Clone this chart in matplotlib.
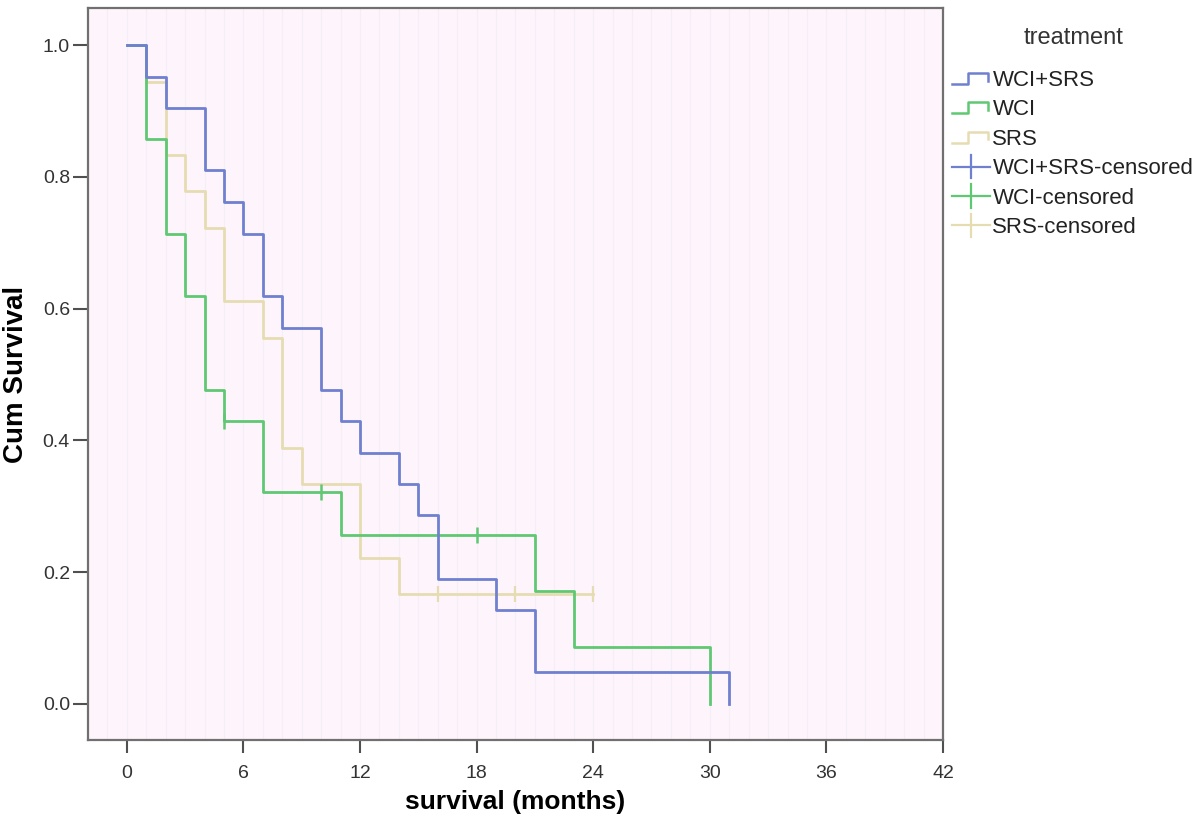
import matplotlib
matplotlib.use("Agg")
import matplotlib.pyplot as plt
from matplotlib.lines import Line2D
from matplotlib.legend_handler import HandlerBase

plt.rcParams['font.family'] = ['Liberation Sans', 'DejaVu Sans']

# ---- data ----
groups = ["WCI+SRS", "WCI", "SRS"]

wcisrs_t = [0, 1, 2, 4, 5, 6, 7, 8, 10, 11, 12, 14, 15, 16, 19, 21, 31]
wcisrs_s = [1.0, 0.952, 0.905, 0.810, 0.762, 0.714, 0.619, 0.571, 0.476,
            0.429, 0.381, 0.333, 0.286, 0.190, 0.143, 0.048, 0.0]
wcisrs_cens_t = []
wcisrs_cens_s = []

wci_t = [0, 1, 2, 3, 4, 5, 7, 11, 21, 23, 30]
wci_s = [1.0, 0.857, 0.714, 0.619, 0.476, 0.429, 0.321, 0.257, 0.171, 0.086, 0.0]
wci_cens_t = [5, 10, 18]
wci_cens_s = [0.429, 0.321, 0.257]

srs_t = [0, 1, 2, 3, 4, 5, 7, 8, 9, 12, 14, 24]
srs_s = [1.0, 0.944, 0.833, 0.778, 0.722, 0.611, 0.556, 0.389, 0.333, 0.222, 0.167, 0.167]
srs_cens_t = [16, 20, 24]
srs_cens_s = [0.167, 0.167, 0.167]

x_ticks = [0, 6, 12, 18, 24, 30, 36, 42]
y_ticks = [0.0, 0.2, 0.4, 0.6, 0.8, 1.0]

colors = {"WCI+SRS": "#6E80CF", "WCI": "#5EC872", "SRS": "#E6DCB2"}

fig = plt.figure(figsize=(12, 8.3), dpi=100)
ax = fig.add_axes([0.0733, 0.1084, 0.7125, 0.8816])
ax.set_facecolor("#FDF5FB")

# faint vertical texture lines as in the reference background
for xv in range(-2, 43):
    ax.axvline(xv, color="#F4EEF6", lw=0.8, zorder=0)

lw = 2.0
ax.plot(srs_t, srs_s, drawstyle="steps-post", color=colors["SRS"], lw=lw, zorder=2)
ax.plot(wci_t, wci_s, drawstyle="steps-post", color=colors["WCI"], lw=lw, zorder=3)
ax.plot(wcisrs_t, wcisrs_s, drawstyle="steps-post", color=colors["WCI+SRS"], lw=lw, zorder=4)

ax.plot(srs_cens_t, srs_cens_s, ls="none", marker="|", ms=12, mew=1.6, color=colors["SRS"], zorder=5)
ax.plot(wci_cens_t, wci_cens_s, ls="none", marker="|", ms=12, mew=1.8, color=colors["WCI"], zorder=5)
ax.plot(wcisrs_cens_t, wcisrs_cens_s, ls="none", marker="|", ms=12, mew=1.8, color=colors["WCI+SRS"], zorder=5)

ax.set_xlim(-2, 42)
ax.set_ylim(-0.055, 1.056)
ax.set_xticks(x_ticks)
ax.set_xticklabels([str(v) for v in x_ticks])
ax.set_yticks(y_ticks)
ax.set_yticklabels([f"{v:.1f}" for v in y_ticks])

for sp in ax.spines.values():
    sp.set_color("#707070")
    sp.set_linewidth(1.6)

ax.tick_params(axis="x", direction="out", length=9, width=1.5, color="#505050",
               labelsize=14, labelcolor="#333333", pad=9)
ax.tick_params(axis="y", direction="out", length=11, width=1.5, color="#505050",
               labelsize=14, labelcolor="#333333", pad=2)

ax.set_xlabel("survival (months)", fontsize=19, fontweight="bold", labelpad=6)
ax.set_ylabel("Cum Survival", fontsize=20, fontweight="bold", labelpad=10)


class StepHandler(HandlerBase):
    def __init__(self, color):
        super().__init__()
        self.color = color

    def create_artists(self, legend, orig_handle, xdescent, ydescent, width,
                       height, fontsize, trans):
        x0 = -xdescent
        y0 = -ydescent
        lo = y0 + 0.15 * height
        hi = y0 + 0.85 * height
        xs = [x0, x0 + 0.42 * width, x0 + 0.42 * width, x0 + 0.95 * width, x0 + 0.95 * width]
        ys = [lo, lo, hi, hi, y0 + 0.35 * height]
        ln = Line2D(xs, ys, color=self.color, lw=1.8, transform=trans)
        return [ln]


class CensHandler(HandlerBase):
    def __init__(self, color):
        super().__init__()
        self.color = color

    def create_artists(self, legend, orig_handle, xdescent, ydescent, width,
                       height, fontsize, trans):
        x0 = -xdescent
        y0 = -ydescent
        ym = y0 + 0.5 * height
        h = Line2D([x0, x0 + width], [ym, ym], color=self.color, lw=1.6, transform=trans)
        v = Line2D([x0 + 0.5 * width] * 2, [y0 - 0.25 * height, y0 + 1.25 * height],
                   color=self.color, lw=1.6, transform=trans)
        return [h, v]


handles = []
labels = []
hmap = {}
for g in groups:
    h = Line2D([], [])
    handles.append(h)
    labels.append(g)
    hmap[h] = StepHandler(colors[g])
for g in groups:
    h = Line2D([], [], marker="+")
    handles.append(h)
    labels.append(g + "-censored")
    hmap[h] = CensHandler(colors[g])

fig.text(1074 / 1200, 1 - 38 / 830, "treatment", fontsize=17, color="#333333",
         ha="center", va="center")

leg = fig.legend(handles, labels, handler_map=hmap,
                 loc="upper left", bbox_to_anchor=(952 / 1200, 1 - 70 / 830),
                 frameon=False, fontsize=16,
                 handlelength=1.7, handletextpad=0.12, labelspacing=0.38,
                 borderaxespad=0.0, borderpad=0.0)
for t in leg.get_texts():
    t.set_color("#222222")

fig.savefig("out.png", dpi=100)
